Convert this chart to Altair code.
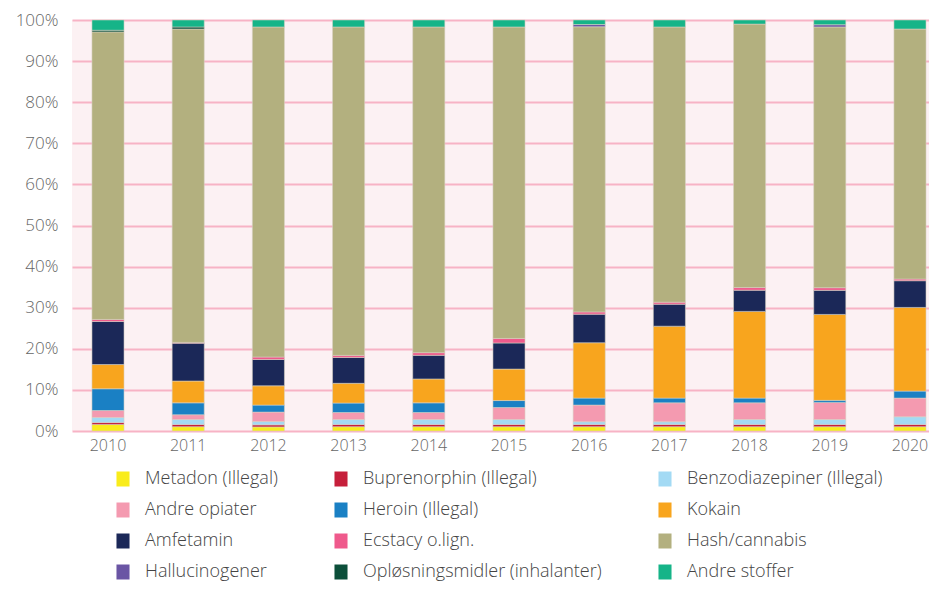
import altair as alt
import pandas as pd

years = ["2010", "2011", "2012", "2013", "2014", "2015", "2016", "2017", "2018", "2019", "2020"]

categories = [
    "Metadon (Illegal)", "Buprenorphin (Illegal)", "Benzodiazepiner (Illegal)",
    "Andre opiater", "Heroin (Illegal)", "Kokain",
    "Amfetamin", "Ecstacy o.lign.", "Hash/cannabis",
    "Hallucinogener", "Opløsningsmidler (inhalanter)", "Andre stoffer",
]
colors = [
    "#f9ec1b", "#c61f3b", "#a3daf4",
    "#f49ab0", "#1a80c4", "#f8a51e",
    "#1b2858", "#ef5a8c", "#b3b07f",
    "#6a55a4", "#0c4f3a", "#16b488",
]

metadon = [1.6, 1.05, 1.0, 1.05, 1.05, 1.05, 1.05, 1.05, 1.05, 1.05, 1.05]
buprenorphin = [0.5, 0.55, 0.5, 0.55, 0.55, 0.55, 0.55, 0.55, 0.55, 0.55, 0.55]
benzo = [1.2, 1.2, 0.8, 1.2, 1.2, 1.2, 0.65, 0.65, 1.2, 1.2, 1.85]
andre_opiater = [1.7, 1.15, 2.3, 1.7, 1.7, 2.9, 4.05, 4.6, 4.05, 4.15, 4.55]
heroin = [5.3, 2.9, 1.7, 2.3, 2.35, 1.7, 1.7, 1.15, 1.15, 0.5, 1.7]
kokain = [5.9, 5.3, 4.7, 4.8, 5.8, 7.65, 13.45, 17.5, 21.1, 20.9, 20.35]
amfetamin = [10.5, 9.2, 6.4, 6.3, 5.75, 6.35, 6.95, 5.35, 5.15, 5.85, 6.5]
ecstacy = [0.5, 0.2, 0.6, 0.5, 0.65, 1.1, 0.55, 0.5, 0.65, 0.65, 0.4]
hash_cannabis = [70.1, 76.2, 80.3, 79.9, 79.2, 75.7, 69.3, 66.95, 64.1, 63.4, 60.8]
hallucinogener = [0, 0, 0, 0, 0, 0, 0.55, 0, 0, 0.55, 0]
oplosningsmidler = [0.4, 0.5, 0, 0, 0, 0, 0, 0, 0, 0, 0]
andre_stoffer = [2.5, 1.7, 1.7, 1.7, 1.7, 1.7, 1.1, 1.7, 1.0, 1.15, 2.2]

series = [metadon, buprenorphin, benzo, andre_opiater, heroin, kokain,
          amfetamin, ecstacy, hash_cannabis, hallucinogener, oplosningsmidler, andre_stoffer]

rows = []
for ci, (cat, vals) in enumerate(zip(categories, series)):
    for y, v in zip(years, vals):
        if v > 0:
            rows.append({"year": y, "stof": cat, "value": v, "idx": ci})
df = pd.DataFrame(rows)

FONT = "Open Sans"

chart = alt.Chart(df).mark_bar(
    stroke="#d8d2c4", strokeWidth=0.8, strokeOpacity=0.7
).encode(
    x=alt.X("year:N", title=None, sort=years,
            scale=alt.Scale(paddingInner=0.6, paddingOuter=0.143, align=0.87),
            axis=alt.Axis(labelAngle=0, labelFontSize=16, labelColor="#666666",
                          labelFont=FONT, labelFontWeight=300, labelPadding=6,
                          ticks=False, domain=False, grid=False)),
    y=alt.Y("value:Q", stack="normalize", title=None,
            scale=alt.Scale(domain=[0, 1]),
            axis=alt.Axis(format=".0%", values=[i / 10 for i in range(11)],
                          labelFontSize=17, labelColor="#666666", labelFont=FONT,
                          labelFontWeight=300, labelPadding=14, ticks=False, domain=False,
                          grid=True, gridColor="#f7b3c5", gridWidth=2, gridOpacity=1)),
    color=alt.Color("stof:N", title=None,
                    scale=alt.Scale(domain=categories, range=colors),
                    legend=alt.Legend(orient="none", legendX=42, legendY=450,
                                      direction="horizontal",
                                      columns=3, columnPadding=54, rowPadding=13,
                                      symbolType="M-0.87,-1H0.87V1H-0.87Z",
                                      symbolSize=225, symbolStrokeWidth=0,
                                      symbolOpacity=1,
                                      labelFontSize=18, labelFont=FONT,
                                      labelFontWeight=300,
                                      labelColor="#444444", labelOffset=13,
                                      labelLimit=400)),
    order=alt.Order("idx:Q", sort="ascending"),
).properties(
    width=857, height=411,
    autosize=alt.AutoSizeParams(type="none"),
    padding={"left": 64, "top": 12, "right": 0, "bottom": 151},
).configure_view(
    fill="#fcf1f3", stroke=None
)

chart.save("out.html", embed_options={"renderer": "svg", "actions": False})
